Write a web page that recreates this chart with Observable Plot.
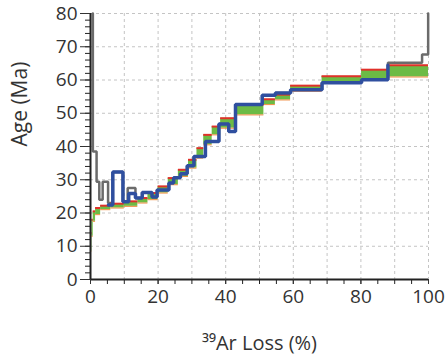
<!DOCTYPE html>
<html>
<head>
<meta charset="utf-8">
<script src="https://cdn.jsdelivr.net/npm/d3@7"></script>
<script src="https://cdn.jsdelivr.net/npm/@observablehq/plot@0.6"></script>
<style>
  html, body { margin: 0; padding: 0; background: #fff; }
</style>
</head>
<body>
<div id="chart"></div>
<script>
// Measured age steps (green boxes): x-range (% 39Ar loss) and age range (Ma)
const boxX0 = [0, 0.4, 0.8, 1.5, 3, 6, 10, 14, 17, 20, 23, 26, 29, 31.5, 33.5, 36, 38.5, 43, 51.3, 54.7, 59.2, 68.5, 80.2, 88];
const boxX1 = [0.4, 0.8, 1.5, 3, 6, 10, 14, 17, 20, 23, 26, 29, 31.5, 33.5, 36, 38.5, 43, 51.3, 54.7, 59.2, 68.5, 80.2, 88, 100];
const boxLo = [8.5, 13, 17.5, 19.5, 21, 21.5, 22, 23, 24, 26, 28.5, 31, 33.5, 36.5, 40.5, 43.5, 45.5, 49.5, 52.6, 54, 56.6, 59.1, 60.1, 60.9];
const boxHi = [14, 18, 20.5, 21.5, 22.2, 22.8, 23.5, 24.5, 26, 28, 30.5, 33, 36, 39.5, 43.5, 46, 48.5, 52.5, 54.2, 55.6, 58.3, 61.1, 63.1, 64.4];

// Blue model staircase: step boundaries and ages
const blueX = [5.3, 6.6, 9.6, 11.3, 13.3, 15.3, 18.2, 19.7, 23.2, 24.6, 26.6, 28.6, 30.6, 34.0, 38.0, 40.9, 42.9, 50.8, 54.7, 59.2, 68.5, 80.2, 88.0];
const blueAge = [22.4, 32.3, 23.4, 25.9, 24.5, 26.2, 24.8, 26.9, 29, 30.6, 31.8, 34.2, 37, 41.5, 46.8, 44.5, 52.6, 55.4, 56.1, 57.1, 59.2, 60.1];
const blueEnd = 64.4;

// Gray model staircase
const grayX = [0.7, 1.8, 2.6, 3.6, 5.2, 6.6, 9.6, 11.0, 13.3, 15.3, 18.2, 19.7, 23.2, 24.6, 26.6, 28.6, 30.6, 34.0, 38.0, 40.9, 42.9, 50.8, 54.7, 59.2, 68.5, 80.2, 88.0, 98.1, 99.9];
const grayAge = [38.5, 29.4, 24, 29.4, 23, 32.3, 23.4, 27.5, 24.5, 26.2, 24.8, 26.9, 29, 30.6, 31.8, 34.2, 37, 41.5, 46.8, 44.5, 52.6, 55.4, 56.1, 57.1, 59.2, 60.1, 65.2, 67.7];
const grayTop = 80;

const xGrid = [10, 20, 30, 40, 50, 60, 70, 80, 90, 100];
const yGrid = [10, 20, 30, 40, 50, 60, 70, 80];
const xTicks = [0, 20, 40, 60, 80, 100];
const xMinor = d3.range(0, 101, 5);
const yTicks = [0, 10, 20, 30, 40, 50, 60, 70, 80];
const yMinor = d3.range(0, 81, 2);

const boxes = boxX0.map((x0, i) => ({x0, x1: boxX1[i], lo: boxLo[i], hi: boxHi[i]}));

function stepPoints(xs, ys) {
  const pts = [];
  for (let i = 0; i < ys.length; i++) {
    pts.push({x: xs[i], y: ys[i]}, {x: xs[i + 1], y: ys[i]});
  }
  return pts;
}
const bluePts = stepPoints(blueX, blueAge);
bluePts.push({x: blueX[blueX.length - 1], y: blueEnd});
const grayPts = [{x: grayX[0], y: grayTop}, ...stepPoints(grayX, grayAge), {x: grayX[grayX.length - 1], y: grayTop}];

const font = "'Open Sans', 'Noto Sans', sans-serif";

const chart = Plot.plot({
  width: 447,
  height: 356,
  marginLeft: 90,
  marginRight: 19,
  marginTop: 13,
  marginBottom: 77,
  x: {domain: [0, 100]},
  y: {domain: [0, 80]},
  style: {fontFamily: font, fontSize: "19px", color: "#333", background: "#fff"},
  marks: [
    Plot.gridX(xGrid, {stroke: "#c4c4c4", strokeOpacity: 1, strokeDasharray: "3,3", strokeWidth: 1}),
    Plot.gridY(yGrid, {stroke: "#c4c4c4", strokeOpacity: 1, strokeDasharray: "3,3", strokeWidth: 1}),
    Plot.line(grayPts, {x: "x", y: "y", stroke: "#6b6b6b", strokeWidth: 2.5, strokeLinejoin: "miter"}),
    Plot.rect(boxes, {x1: "x0", x2: "x1", y1: "lo", y2: "hi", fill: "#6cbb45", inset: 0}),
    Plot.ruleY(boxes, {y: "lo", x1: "x0", x2: "x1", stroke: "#f08a3c", strokeWidth: 1}),
    Plot.ruleY(boxes, {y: "hi", x1: "x0", x2: "x1", stroke: "#e0302a", strokeWidth: 2}),
    Plot.line(bluePts, {x: "x", y: "y", stroke: "#2f4f9f", strokeWidth: 3.5, strokeLinejoin: "miter"}),
    Plot.ruleX([0], {stroke: "#222", strokeWidth: 2}),
    Plot.ruleY([0], {stroke: "#222", strokeWidth: 2}),
    Plot.axisX({ticks: xMinor, tickSize: 5, tickFormat: () => "", label: null, stroke: "#222"}),
    Plot.axisX({ticks: xTicks, tickSize: 5, tickPadding: 5, label: null, fontSize: 19, fill: "#333"}),
    Plot.axisY({ticks: yMinor, tickSize: 5, tickFormat: () => "", label: null, stroke: "#222"}),
    Plot.axisY({ticks: yTicks, tickSize: 10, tickPadding: 3, label: null, fontSize: 19, fill: "#333"}),
    Plot.text(["³⁹Ar Loss (%)"], {frameAnchor: "bottom", dy: 70, fontSize: 20, fill: "#333"}),
    Plot.text(["Age (Ma)"], {frameAnchor: "left", dx: -70, rotate: -90, fontSize: 21, fill: "#333"})
  ]
});
document.getElementById("chart").appendChild(chart);
</script>
</body>
</html>
